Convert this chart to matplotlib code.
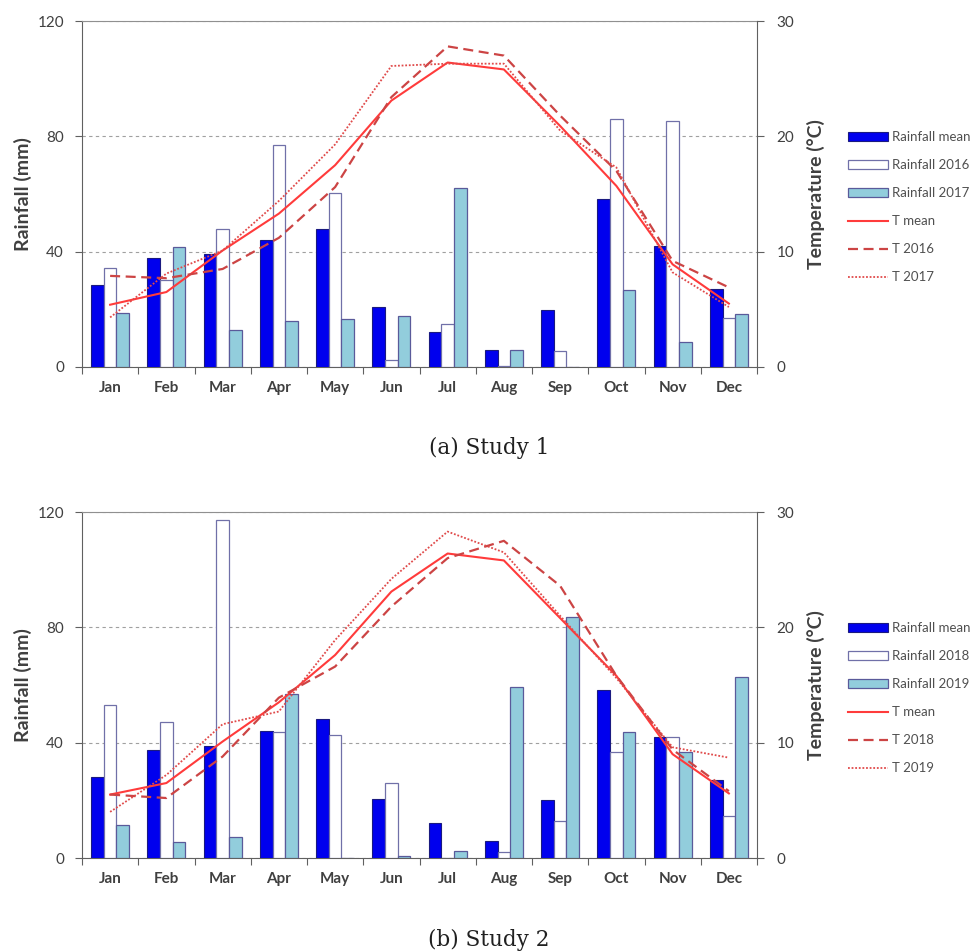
import matplotlib.pyplot as plt
from matplotlib.patches import Patch
from matplotlib.lines import Line2D
import numpy as np

months = ['Jan', 'Feb', 'Mar', 'Apr', 'May', 'Jun', 'Jul', 'Aug', 'Sep', 'Oct', 'Nov', 'Dec']

# study 1
rain_mean_1 = [28.3, 37.7, 39.2, 44.1, 47.9, 20.8, 12.2, 5.9, 19.6, 58.2, 41.8, 27.0]
rain_2016 = [34.3, 30.2, 47.9, 77.1, 60.5, 2.5, 14.8, 0.3, 5.7, 86.1, 85.2, 17.0]
rain_2017 = [18.7, 41.5, 13.0, 15.8, 16.5, 17.8, 62.0, 5.9, 0.0, 26.7, 8.7, 18.5]
t_mean_1 = [5.4, 6.5, 10.1, 13.3, 17.5, 23.1, 26.4, 25.8, 20.9, 15.7, 8.9, 5.5]
t_2016 = [7.9, 7.7, 8.5, 11.2, 15.6, 23.4, 27.8, 27.0, 21.8, 17.0, 9.2, 6.9]
t_2017 = [4.3, 8.1, 10.1, 14.4, 19.3, 26.1, 26.3, 26.3, 20.5, 17.3, 8.2, 5.2]

# study 2
rain_mean_2 = [28.1, 37.6, 39.0, 43.9, 48.3, 20.6, 12.0, 5.8, 20.0, 58.1, 41.8, 26.9]
rain_2018 = [52.9, 47.1, 117.2, 43.6, 42.8, 26.0, 0.0, 2.0, 13.0, 36.9, 42.0, 14.5]
rain_2019 = [11.6, 5.4, 7.3, 56.9, 0.0, 0.8, 2.3, 59.3, 83.6, 43.6, 36.8, 62.7]
t_mean_2 = [5.5, 6.5, 10.1, 13.5, 17.6, 23.1, 26.4, 25.8, 20.8, 15.8, 9.0, 5.6]
t_2018 = [5.5, 5.2, 8.8, 13.9, 16.6, 21.8, 26.0, 27.5, 23.6, 15.8, 9.4, 5.8]
t_2019 = [4.0, 7.2, 11.6, 12.7, 18.9, 24.2, 28.3, 26.5, 21.0, 15.6, 9.6, 8.7]

studies = [
    ('(a) Study 1', rain_mean_1, rain_2016, rain_2017, t_mean_1, t_2016, t_2017, '2016', '2017'),
    ('(b) Study 2', rain_mean_2, rain_2018, rain_2019, t_mean_2, t_2018, t_2019, '2018', '2019'),
]

plt.rcParams['font.family'] = ['Lato', 'DejaVu Sans']
txt_col = '#404040'
W, H = 975, 951
fig = plt.figure(figsize=(W / 100, H / 100), dpi=100)

boxes = [(82, 21, 757, 367), (82, 512, 757, 858)]  # left, top, right, bottom in px
caption_y = [448, 940]

x = np.arange(12)
bw = 0.225

for i, (cap, rm, r1, r2, tm, t1, t2, y1, y2) in enumerate(studies):
    l, t, r, b = boxes[i]
    ax = fig.add_axes([l / W, 1 - b / H, (r - l) / W, (b - t) / H])
    ax.bar(x - bw, rm, bw, color='#0000ee', edgecolor='#1a1a80', linewidth=0.8, zorder=3)
    ax.bar(x, r1, bw, color='white', edgecolor='#7070a8', linewidth=0.9, zorder=3)
    ax.bar(x + bw, r2, bw, color='#92cddc', edgecolor='#5a5a9a', linewidth=0.9, zorder=3)
    ax.set_xlim(-0.5, 11.5)
    ax.set_ylim(0, 120)
    ax.set_yticks([0, 40, 80, 120])
    ax.yaxis.grid(True, linestyle=(0, (3, 3)), color='#a0a0a0', linewidth=0.8)
    ax.set_axisbelow(True)
    ax.set_xticks(np.arange(-0.5, 12, 1))
    ax.set_xticklabels([])
    ax.set_xticks(x, minor=True)
    ax.set_xticklabels(months, minor=True, fontsize=11, fontweight='bold', color=txt_col)
    ax.tick_params(axis='x', which='minor', length=0, pad=10)
    ax.tick_params(axis='x', which='major', length=5, color='#606060', direction='out')
    ax.tick_params(axis='y', length=5, pad=8, color='#606060', labelsize=11, labelcolor=txt_col)
    ax.set_ylabel('Rainfall (mm)', fontsize=14, fontweight='bold', color=txt_col, labelpad=4)
    for s in ['left', 'bottom']:
        ax.spines[s].set_color('#606060')
    ax.spines['top'].set_color('#909090')
    ax.spines['right'].set_visible(False)

    ax2 = ax.twinx()
    ax2.plot(x, tm, color='#ff3b3b', linewidth=1.5, linestyle='-')
    ax2.plot(x, t1, color='#cc4444', linewidth=1.6, linestyle=(0, (4.5, 2.5)))
    ax2.plot(x, t2, color='#e04a4a', linewidth=1.3, linestyle=(0, (1, 1)))
    ax2.set_ylim(0, 30)
    ax2.set_yticks([0, 10, 20, 30])
    ax2.tick_params(axis='y', length=5, pad=9, color='#606060', labelsize=11, labelcolor=txt_col)
    ax2.set_ylabel('Temperature (°C)', fontsize=14, fontweight='bold', color=txt_col, labelpad=9)
    ax2.spines['right'].set_color('#606060')
    for s in ['left', 'top', 'bottom']:
        ax2.spines[s].set_visible(False)

    handles = [
        Patch(facecolor='#0000ee', edgecolor='#1a1a80', linewidth=0.8),
        Patch(facecolor='white', edgecolor='#7070a8', linewidth=0.9),
        Patch(facecolor='#92cddc', edgecolor='#5a5a9a', linewidth=0.9),
        Line2D([], [], color='#ff3b3b', linewidth=1.5),
        Line2D([], [], color='#cc4444', linewidth=1.6, linestyle=(0, (4.5, 2.5))),
        Line2D([], [], color='#e04a4a', linewidth=1.3, linestyle=(0, (1, 1))),
    ]
    labels = ['Rainfall mean', 'Rainfall ' + y1, 'Rainfall ' + y2, 'T mean', 'T ' + y1, 'T ' + y2]
    leg = fig.legend(handles, labels, loc='upper left',
                     bbox_to_anchor=(848 / W, 1 - (t + 110) / H),
                     frameon=False, fontsize=9.5, handlelength=3.0, handleheight=0.6,
                     labelspacing=1.22, handletextpad=0.35, borderaxespad=0, borderpad=0)
    for tx in leg.get_texts():
        tx.set_color('#505050')

    fig.text(489 / W, 1 - caption_y[i] / H, cap, ha='center', va='center',
             fontsize=15.5, family=['DejaVu Serif'], color='#202020')

fig.savefig('out.png', dpi=100)
